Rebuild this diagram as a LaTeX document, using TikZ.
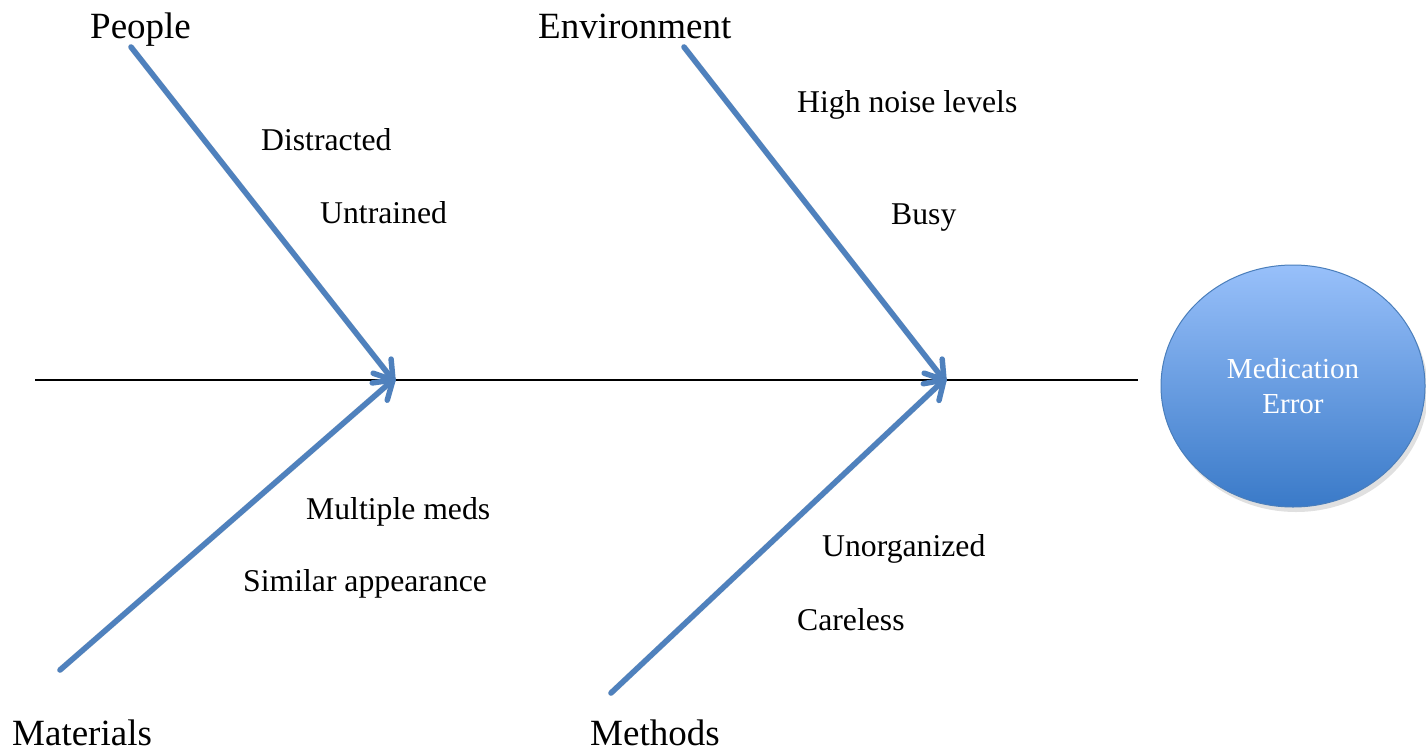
\documentclass[tikz,border=0pt]{standalone}
\usepackage{fontspec}
\setmainfont{Liberation Serif}
\newfontfamily\tnr{Liberation Serif}
\usetikzlibrary{calc,shapes.geometric}
\definecolor{bone}{RGB}{79,129,189}
\definecolor{ctop}{RGB}{152,192,250}
\definecolor{cbot}{RGB}{58,122,200}
\definecolor{cedge}{RGB}{74,126,187}
\begin{document}
\begin{tikzpicture}[x=1pt,y=-1pt,
  bone/.style={draw=bone,line width=5.5pt,line cap=round,line join=round},
  boneshadow/.style={draw=black,opacity=0.1,line width=6pt,line cap=round,line join=round},
  head/.style={inner sep=0pt,anchor=base west,font=\tnr\fontsize{37}{44}\selectfont},
  cause/.style={inner sep=0pt,anchor=base west,font=\tnr\fontsize{31.7}{38}\selectfont},
  effect/.style={ellipse,minimum width=264pt,minimum height=242pt,
    top color=ctop,bottom color=cbot,draw=cedge,line width=1pt,
    text=white,align=center,font=\tnr\fontsize{29}{35}\selectfont}]
\useasboundingbox (0,0) rectangle (1426,752);
% spine
\coordinate (s0) at (35,380);
\coordinate (s1) at (1138,380);
\draw[line width=2pt] (s0) -- (s1);
% bone endpoints
\coordinate (j1) at (393,380);
\coordinate (j2) at (944,380);
\coordinate (pA) at (131,47);
\coordinate (mA) at (60,670);
\coordinate (eA) at (684,47);
\coordinate (tA) at (611,693);
\foreach \s/\t in {pA/j1,mA/j1,eA/j2,tA/j2}{
  \begin{scope}[shift={(2,3)}]
  \draw[boneshadow] (\s) -- (\t);
  \end{scope}
  \draw[bone] (\s) -- (\t);
  \draw[bone] ($(\t)!21pt!33:(\s)$) -- (\t) -- ($(\t)!21pt!-33:(\s)$);
}
% effect
\fill[black,opacity=0.12] (1296,391) ellipse [x radius=132pt,y radius=121pt];
\node[effect] (eff) at (1293,386) {Medication\\Error};
% headings
\node[head] (people) at (90,39) {People};
\node[head] (env) at (538,39) {Environment};
\node[head] (mat) at (12,745) {Materials};
\node[head] (meth) at (590,745) {Methods};
% causes
\node[cause] (c1) at (261,150) {Distracted};
\node[cause] (c2) at (320,223) {Untrained};
\node[cause] (c3) at (797,112) {High noise levels};
\node[cause] (c4) at (891,224) {Busy};
\node[cause] (c5) at (306,519) {Multiple meds};
\node[cause] (c6) at (243,591) {Similar appearance};
\node[cause] (c7) at (822,556) {Unorganized};
\node[cause] (c8) at (797,630) {Careless};
\end{tikzpicture}
\end{document}
